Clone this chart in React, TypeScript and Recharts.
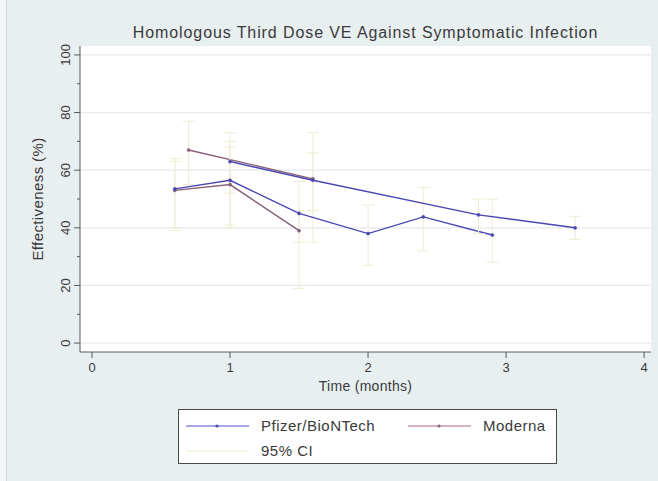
import {
  LineChart,
  Line,
  XAxis,
  YAxis,
  CartesianGrid,
  ReferenceLine,
  ErrorBar,
  Label,
} from "recharts";

const FONT = "'Liberation Sans', Arial, Helvetica, sans-serif";
const TEXT = "#3a3a3a";
const AXIS = "#5a5a5a";
const PFIZER = "#4a46b4";
const MODERNA = "#86607a";
const CI = "#efecd4";
const BG = "#e8eff1";
const GRID = "#e4eaed";

// study 1 (lower lines)
const pfizerATime = [0.6, 1.0, 1.5, 2.0, 2.4, 2.9];
const pfizerAVe = [53.5, 56.5, 45, 38, 43.8, 37.5];
const pfizerALow = [40, 41, 35, 27, 32, 28];
const pfizerAHigh = [64, 70, 56, 48, 54, 50];

const modernaATime = [0.6, 1.0, 1.5];
const modernaAVe = [53, 55, 39];
const modernaALow = [39, 40, 19];
const modernaAHigh = [63, 68, 46];

// study 2 (upper lines)
const pfizerBTime = [1.0, 1.6, 2.8, 3.5];
const pfizerBVe = [63, 56.5, 44.5, 40];
const pfizerBLow = [52, 46, 38, 36];
const pfizerBHigh = [73, 66, 50, 44];

const modernaBTime = [0.7, 1.6];
const modernaBVe = [67, 57];
const modernaBLow = [55, 35];
const modernaBHigh = [77, 73];

const xTicks = [0, 1, 2, 3, 4];
const yTicks = [0, 10, 20, 30, 40, 50, 60, 70, 80, 90, 100];
const yGrid = [0, 20, 40, 60, 80, 100];

function build(time: number[], ve: number[], low: number[], high: number[]) {
  return time.map((t, i) => ({
    t,
    ve: ve[i],
    err: [ve[i] - low[i], high[i] - ve[i]],
  }));
}

const pfizerA = build(pfizerATime, pfizerAVe, pfizerALow, pfizerAHigh);
const modernaA = build(modernaATime, modernaAVe, modernaALow, modernaAHigh);
const pfizerB = build(pfizerBTime, pfizerBVe, pfizerBLow, pfizerBHigh);
const modernaB = build(modernaBTime, modernaBVe, modernaBLow, modernaBHigh);

function YTick(props: any) {
  const { x, y, payload } = props;
  const v = payload.value;
  const major = v % 20 === 0;
  return (
    <g>
      <line x1={x - (major ? 6 : 3)} x2={x} y1={y} y2={y} stroke={AXIS} />
      {major && (
        <text
          x={x - 10}
          y={y}
          transform={`rotate(-90 ${x - 10} ${y})`}
          textAnchor="middle"
          fontSize={13}
          fill={TEXT}
          fontFamily={FONT}
        >
          {v}
        </text>
      )}
    </g>
  );
}

function YLabel(props: any) {
  const { viewBox } = props;
  const cy = viewBox.y + viewBox.height / 2;
  return (
    <text
      x={43}
      y={cy}
      transform={`rotate(-90 43 ${cy})`}
      textAnchor="middle"
      fontSize={15}
      letterSpacing={0.4}
      fill={TEXT}
      fontFamily={FONT}
    >
      Effectiveness (%)
    </text>
  );
}

function series(data: any[], color: string, name: string) {
  return (
    <Line
      key={name}
      data={data}
      dataKey="ve"
      name={name}
      type="linear"
      stroke={color}
      strokeWidth={1.4}
      dot={{ r: 1.6, fill: color, stroke: color, strokeWidth: 0.5 }}
      activeDot={false}
      isAnimationActive={false}
    >
      <ErrorBar
        dataKey="err"
        direction="y"
        width={6}
        stroke={CI}
        strokeWidth={1}
        isAnimationActive={false}
      />
    </Line>
  );
}

function LegendBox() {
  const rowStyle = {
    position: "absolute" as const,
    fontSize: 15,
    letterSpacing: 0.5,
    fontFamily: FONT,
    color: TEXT,
    lineHeight: "16px",
  };
  return (
    <div
      style={{
        position: "absolute",
        left: 178,
        top: 409,
        width: 377,
        height: 53,
        background: "#fff",
        border: "1px solid #4a4a4a",
      }}
    >
      <svg width={377} height={53} style={{ position: "absolute", left: 0, top: 0 }}>
        <line x1={7} x2={70} y1={16} y2={16} stroke="#8a88d6" strokeWidth={1.6} />
        <circle cx={38} cy={16} r={1.6} fill={PFIZER} />
        <line x1={229} x2={292} y1={16} y2={16} stroke="#c09ab2" strokeWidth={1.6} />
        <circle cx={260} cy={16} r={1.6} fill={MODERNA} />
        <line x1={7} x2={70} y1={41} y2={41} stroke="#f4f2dc" strokeWidth={1.6} />
      </svg>
      <div style={{ ...rowStyle, left: 82, top: 8 }}>Pfizer/BioNTech</div>
      <div style={{ ...rowStyle, left: 304, top: 8 }}>Moderna</div>
      <div style={{ ...rowStyle, left: 82, top: 33 }}>95% CI</div>
    </div>
  );
}

export default function App() {
  return (
    <div
      style={{
        position: "absolute",
        left: 0,
        top: 0,
        width: 658,
        height: 481,
        background: BG,
        overflow: "hidden",
      }}
    >
      <div
        style={{
          position: "absolute",
          left: 0,
          top: 0,
          width: 6,
          height: 481,
          background: "#f3f6f7",
          borderRight: "1px solid #d3dadd",
        }}
      />
      <div
        style={{
          position: "absolute",
          left: 80,
          width: 571,
          top: 24,
          textAlign: "center",
          fontSize: 16,
          letterSpacing: 0.9,
          fontFamily: FONT,
          color: TEXT,
          lineHeight: "17px",
        }}
      >
        Homologous Third Dose VE Against Symptomatic Infection
      </div>
      <LineChart
        width={658}
        height={481}
        margin={{ top: 46, right: 7, bottom: 89, left: 0 }}
        style={{ position: "absolute", left: 0, top: 0 }}
      >
        <CartesianGrid fill="#ffffff" horizontal={false} vertical={false} />
        {yGrid.map((v) => (
          <ReferenceLine key={v} y={v} stroke={GRID} strokeWidth={1.2} />
        ))}
        <XAxis
          dataKey="t"
          type="number"
          domain={[-0.087, 4.05]}
          ticks={xTicks}
          allowDataOverflow
          height={40}
          tickSize={6}
          tickMargin={5}
          stroke={AXIS}
          tick={{ fontSize: 13, fill: TEXT, fontFamily: FONT }}
        >
          <Label
            value="Time (months)"
            position="insideBottom"
            offset={1}
            style={{ fontSize: 14, letterSpacing: 0.3, fill: TEXT, fontFamily: FONT }}
          />
        </XAxis>
        <YAxis
          type="number"
          domain={[-3.1, 103.1]}
          ticks={yTicks}
          allowDataOverflow
          width={80}
          tickSize={0}
          tickMargin={0}
          tickLine={false}
          stroke={AXIS}
          tick={<YTick />}
        >
          <Label content={<YLabel />} />
        </YAxis>
        {series(modernaA, MODERNA, "Moderna A")}
        {series(modernaB, MODERNA, "Moderna B")}
        {series(pfizerA, PFIZER, "Pfizer A")}
        {series(pfizerB, PFIZER, "Pfizer B")}
      </LineChart>
      <LegendBox />
    </div>
  );
}
